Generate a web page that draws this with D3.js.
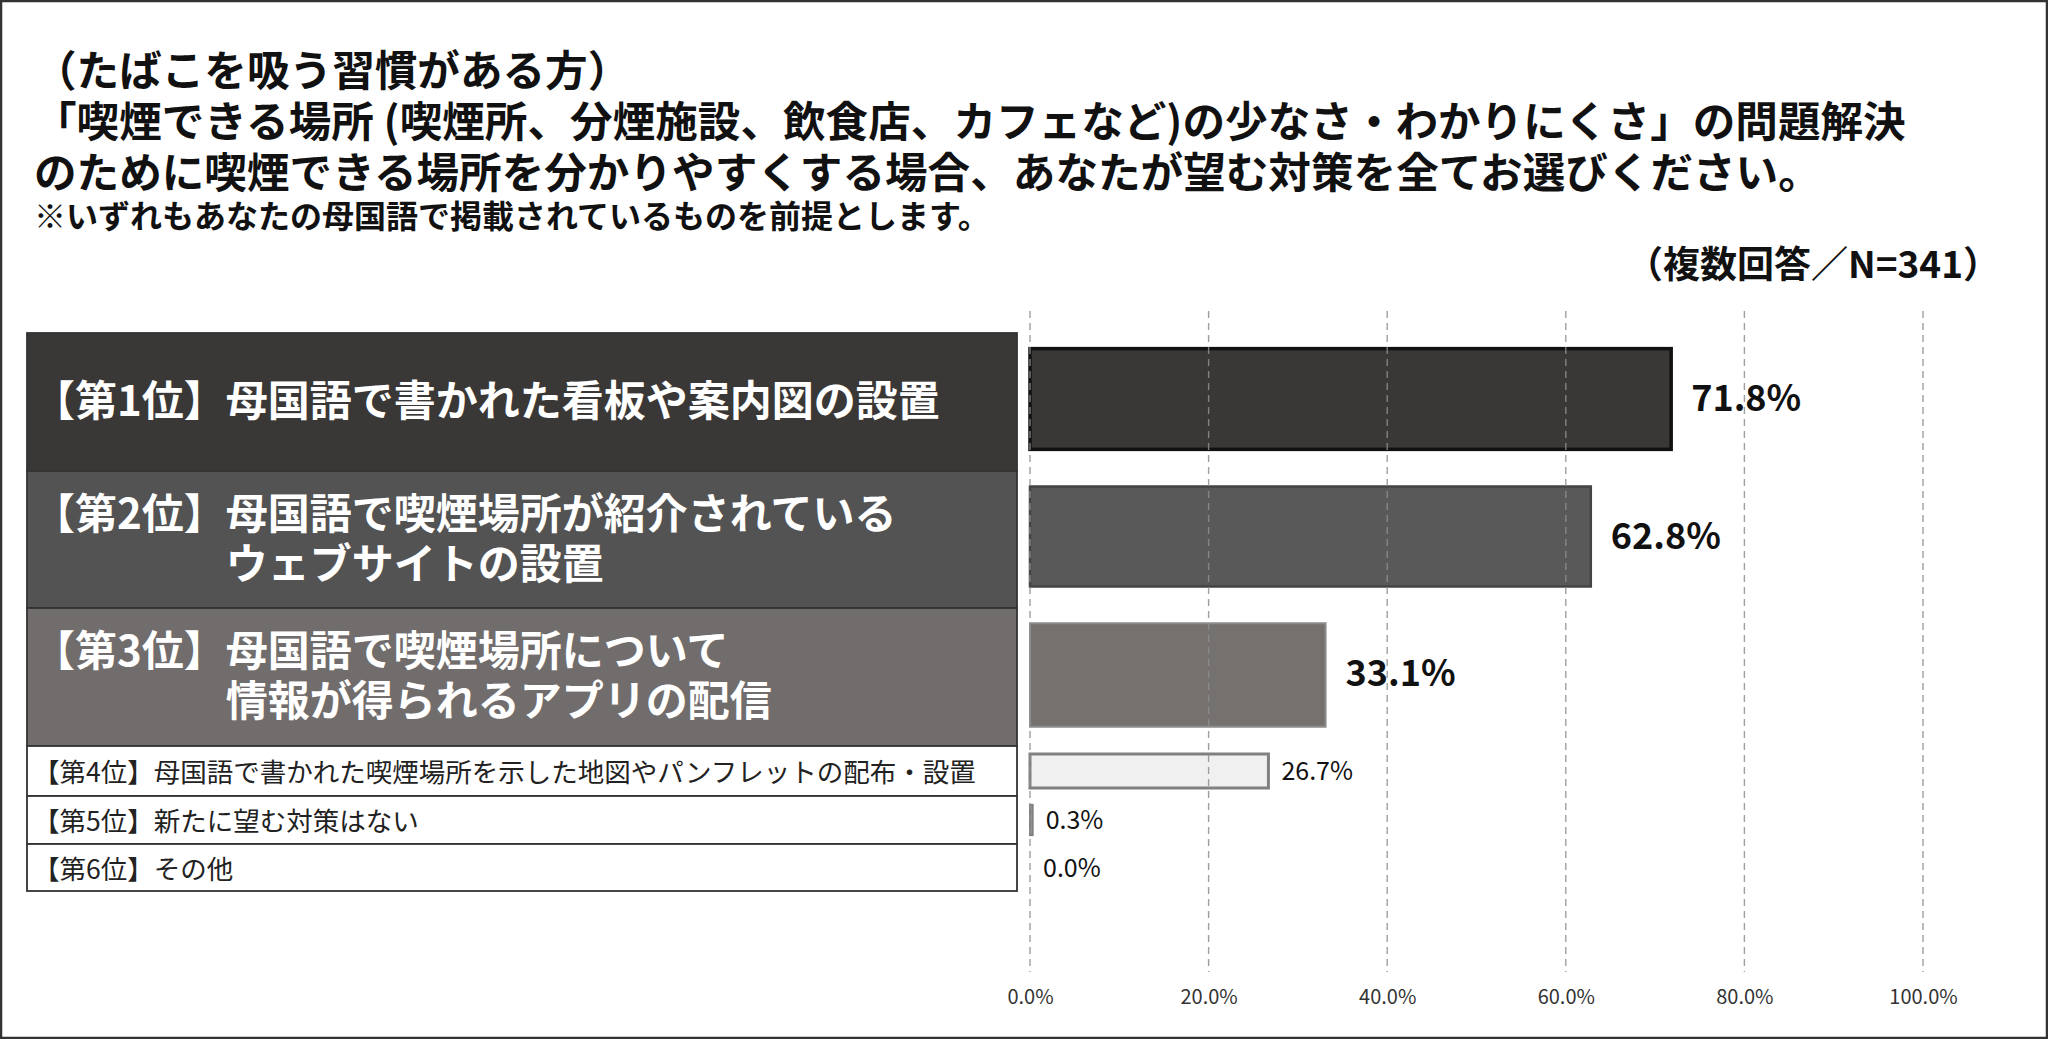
<!DOCTYPE html>
<html>
<head>
<meta charset="utf-8">
<script src="https://cdn.jsdelivr.net/npm/d3@7.9.0/dist/d3.min.js"></script>
<style>
  body { margin: 0; background: #fff; }
  text { font-family: "Noto Sans CJK JP", "Noto Sans", sans-serif; }
</style>
</head>
<body>
<svg id="chart" width="2048" height="1039"></svg>
<script>
// data
const titleLines = [
  "（たばこを吸う習慣がある方）",
  "「喫煙できる場所 (喫煙所、分煙施設、飲食店、カフェなど)の少なさ・わかりにくさ」の問題解決",
  "のために喫煙できる場所を分かりやすくする場合、あなたが望む対策を全てお選びください。"
];
const note = "※いずれもあなたの母国語で掲載されているものを前提とします。";
const sampleNote = "（複数回答／N=341）";

const ranks = ["【第1位】", "【第2位】", "【第3位】", "【第4位】", "【第5位】", "【第6位】"];
const items = [
  ["母国語で書かれた看板や案内図の設置"],
  ["母国語で喫煙場所が紹介されている", "ウェブサイトの設置"],
  ["母国語で喫煙場所について", "情報が得られるアプリの配信"],
  ["母国語で書かれた喫煙場所を示した地図やパンフレットの配布・設置"],
  ["新たに望む対策はない"],
  ["その他"]
];
const values = [71.8, 62.8, 33.1, 26.7, 0.3, 0.0];
const ticks = [0, 20, 40, 60, 80, 100];

// layout
const rowHeights = [138, 137, 138, 50, 48, 47];
const panelTop = 333, panelLeft = 27, panelRight = 1017;
const rowFill = ["#3a3836", "#535353", "#716d6c", "#fff", "#fff", "#fff"];
const barFill = ["#3a3836", "#595959", "#75716f", "#f0f0f0", "#9a9a9a", "#9a9a9a"];
const barStroke = ["#111", "#444", "#8c8c8c", "#808080", "#808080", "#808080"];
const barStrokeW = [3.5, 2.5, 2, 3, 2, 2];
const barRatio = [0.73, 0.73, 0.75, 0.68, 0.63, 0.63];
const barShift = [-3, -3, -2, 0, 0, 0];

const rowTop = rowHeights.map((h, i) => panelTop + d3.sum(rowHeights.slice(0, i)));
const rowMid = rowTop.map((t, i) => t + rowHeights[i] / 2);
const big = i => i < 3;

const svg = d3.select("#chart");

// outer frame
svg.append("rect")
  .attr("x", 1).attr("y", 1).attr("width", 2046).attr("height", 1037)
  .attr("fill", "#fff").attr("stroke", "#333").attr("stroke-width", 2.5);

// title
svg.selectAll(".title").data(titleLines).join("text")
  .attr("x", 34).attr("y", (d, i) => 67 + i * 51)
  .attr("dominant-baseline", "central")
  .attr("font-size", 42.6).attr("font-weight", 700).attr("fill", "#111")
  .text(d => d);

svg.append("text")
  .attr("x", 34).attr("y", 214)
  .attr("dominant-baseline", "central")
  .attr("font-size", 32).attr("font-weight", 700).attr("fill", "#111")
  .text(note);

svg.append("text")
  .attr("x", 2000).attr("y", 262)
  .attr("text-anchor", "end").attr("dominant-baseline", "central")
  .attr("font-size", 37).attr("font-weight", 700).attr("fill", "#111")
  .text(sampleNote);

// label panel
const rows = svg.append("g").selectAll("g").data(ranks).join("g");

rows.append("rect")
  .attr("x", panelLeft).attr("y", (d, i) => rowTop[i])
  .attr("width", panelRight - panelLeft).attr("height", (d, i) => rowHeights[i])
  .attr("fill", (d, i) => rowFill[i])
  .attr("stroke", "#333").attr("stroke-width", 1.8);

rows.each(function (rank, i) {
  const g = d3.select(this);
  const fs = big(i) ? 42 : 26.5;
  const fw = big(i) ? 700 : 400;
  const lines = items[i];
  const y0 = rowMid[i] - (lines.length - 1) * 25 - (big(i) ? 5 : 1);
  // measure the rank prefix so the second line lines up under the item text
  const probe = g.append("text").attr("font-size", fs).attr("font-weight", fw).text(rank);
  const x1 = 33 + probe.node().getComputedTextLength();
  probe.remove();
  const t = g.append("text")
    .attr("x", 33).attr("y", y0)
    .attr("dominant-baseline", "central")
    .attr("font-size", fs).attr("font-weight", fw)
    .attr("fill", big(i) ? "#fff" : "#222");
  t.append("tspan").text(rank + lines[0]);
  lines.slice(1).forEach(line => {
    t.append("tspan").attr("x", x1).attr("dy", 50).text(line);
  });
});

// bars
const x = d3.scaleLinear().domain([0, 100]).range([1030, 1923]);

svg.append("g").selectAll("rect").data(values).join("rect")
  .attr("x", x(0))
  .attr("y", (d, i) => rowMid[i] + barShift[i] - rowHeights[i] * barRatio[i] / 2)
  .attr("width", d => x(d) - x(0))
  .attr("height", (d, i) => rowHeights[i] * barRatio[i])
  .attr("fill", (d, i) => barFill[i])
  .attr("stroke", (d, i) => d > 0 ? barStroke[i] : "none")
  .attr("stroke-width", (d, i) => barStrokeW[i]);

// dashed grid drawn over the bars
svg.append("g").selectAll("line").data(ticks).join("line")
  .attr("x1", d => x(d)).attr("x2", d => x(d))
  .attr("y1", 311).attr("y2", 972)
  .attr("stroke", "#8f8f8f").attr("stroke-width", 1.4)
  .attr("stroke-dasharray", "7,5").attr("opacity", 0.85);

// value labels
svg.append("g").selectAll("text").data(values).join("text")
  .attr("x", (d, i) => x(d) + (big(i) ? 20 : 13))
  .attr("y", (d, i) => rowMid[i] - (big(i) ? 7 : 2))
  .attr("dominant-baseline", "central")
  .attr("font-family", "'Noto Sans', sans-serif")
  .attr("font-size", (d, i) => big(i) ? 36 : 25)
  .attr("font-weight", (d, i) => big(i) ? 700 : 400)
  .attr("fill", "#111")
  .text(d => d.toFixed(1) + "%");

// x axis
const axis = svg.append("g")
  .attr("transform", "translate(0,987)")
  .call(d3.axisBottom(x).tickValues(ticks).tickSize(0).tickFormat(d => d.toFixed(1) + "%"));
axis.select(".domain").remove();
axis.selectAll("text")
  .attr("y", 10).attr("dy", "0.35em")
  .attr("font-family", "'Noto Sans', sans-serif")
  .attr("font-size", 20).attr("fill", "#333");
</script>
</body>
</html>
